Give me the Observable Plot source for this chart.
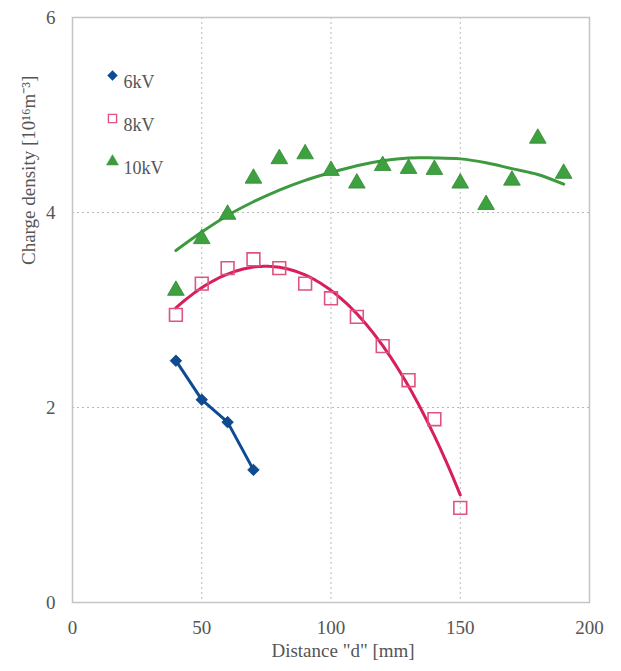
<!DOCTYPE html>
<html>
<head>
<meta charset="utf-8">
<script src="https://cdn.jsdelivr.net/npm/d3@7"></script>
<script src="https://cdn.jsdelivr.net/npm/@observablehq/plot@0.6"></script>
<style>
  html, body { margin: 0; padding: 0; background: #fff; }
  #chart { position: relative; width: 621px; height: 671px; }
  #chart svg, #chart svg text { font-family: "Liberation Serif", serif !important; }
</style>
</head>
<body>
<div id="chart"></div>
<script>
// Measured charge density [10^16 m^-3] against electrode distance d [mm]
const seriesNames = ["6kV", "8kV", "10kV"];

const distance6 = [40, 50, 60, 70];
const density6 = [2.48, 2.08, 1.85, 1.36];

const distance8 = [40, 50, 60, 70, 80, 90, 100, 110, 120, 130, 140, 150];
const density8 = [2.95, 3.27, 3.43, 3.52, 3.43, 3.27, 3.12, 2.93, 2.63, 2.28, 1.88, 0.97];

const distance10 = [40, 50, 60, 70, 80, 90, 100, 110, 120, 130, 140, 150, 160, 170, 180, 190];
const density10 = [3.20, 3.73, 3.98, 4.35, 4.55, 4.60, 4.43, 4.30, 4.48, 4.45, 4.44, 4.30, 4.08, 4.33, 4.76, 4.40];

// smoothed trend drawn through the 10 kV measurements
const trend10 = [3.61, 3.80, 3.97, 4.11, 4.23, 4.33, 4.41, 4.48, 4.53, 4.56, 4.56, 4.55, 4.51, 4.45, 4.39, 4.29];

const xTicks = [0, 50, 100, 150, 200];
const yTicks = [0, 2, 4, 6];

const colors = {"6kV": "#0f4b93", "8kV": "#d81f5e", "10kV": "#3e9a3e"};

// Least-squares polynomial trend line, evaluated every 1 mm across the measured range
function polyTrend(xs, ys, deg) {
  const m = d3.mean(xs), s = 50;
  const n = deg + 1;
  const A = Array.from({length: n}, () => new Array(n + 1).fill(0));
  xs.forEach((x, k) => {
    const t = (x - m) / s;
    for (let i = 0; i < n; i++) {
      for (let j = 0; j < n; j++) A[i][j] += Math.pow(t, i + j);
      A[i][n] += ys[k] * Math.pow(t, i);
    }
  });
  for (let c = 0; c < n; c++) {
    let p = c;
    for (let r = c + 1; r < n; r++) if (Math.abs(A[r][c]) > Math.abs(A[p][c])) p = r;
    [A[c], A[p]] = [A[p], A[c]];
    for (let r = 0; r < n; r++) {
      if (r === c) continue;
      const f = A[r][c] / A[c][c];
      for (let k = c; k <= n; k++) A[r][k] -= f * A[c][k];
    }
  }
  const coef = A.map((row, i) => row[n] / row[i]);
  const pts = [];
  for (let x = d3.min(xs); x <= d3.max(xs); x += 1) {
    const t = (x - m) / s;
    pts.push({x, y: coef.reduce((acc, c, i) => acc + c * Math.pow(t, i), 0)});
  }
  return pts;
}

const pts = (xs, ys) => xs.map((x, i) => ({x, y: ys[i]}));
const fit8 = polyTrend(distance8, density8, 3);

const font = "'Liberation Serif', serif";
const textColor = "#555";

const legendDy = [58, 101, 144];
const legendSymbols = ["diamond2", "square", "triangle"];

const plot = Plot.plot({
  width: 621,
  height: 671,
  marginLeft: 72,
  marginRight: 32,
  marginTop: 17,
  marginBottom: 69,
  style: {fontFamily: font, color: textColor, background: "#fff"},
  x: {domain: [0, 200]},
  y: {domain: [0, 6]},
  marks: [
    Plot.gridX(xTicks.slice(1, -1), {stroke: "#b8b8b8", strokeOpacity: 1, strokeDasharray: "2,3"}),
    Plot.gridY(yTicks.slice(1, -1), {stroke: "#b8b8b8", strokeOpacity: 1, strokeDasharray: "2,3"}),
    Plot.frame({stroke: "#c4c4c4", strokeWidth: 1.5}),
    Plot.axisX(xTicks, {tickSize: 0, tickPadding: 18, fontSize: 19, fontFamily: font, fill: textColor, tickFormat: d3.format("d"), label: null}),
    Plot.axisY(yTicks, {tickSize: 0, tickPadding: 17, fontSize: 19, fontFamily: font, fill: textColor, tickFormat: d3.format("d"), label: null}),
    Plot.text(["Distance \"d\" [mm]"], {frameAnchor: "bottom", dx: 12, dy: 54, fontSize: 19, fontFamily: font, fill: textColor}),
    Plot.text(["Charge density [10\u00b9\u2076m\u207b\u00b3]"], {frameAnchor: "left", rotate: -90, dx: -44, dy: -45, fontSize: 19, fontFamily: font, fill: textColor}),

    // trend lines
    Plot.line(pts(distance6, density6), {x: "x", y: "y", stroke: colors["6kV"], strokeWidth: 3}),
    Plot.line(fit8, {x: "x", y: "y", stroke: colors["8kV"], strokeWidth: 3}),
    Plot.line(pts(distance10, trend10), {x: "x", y: "y", stroke: colors["10kV"], strokeWidth: 3, curve: "catmull-rom"}),

    // measured points
    Plot.dot(pts(distance6, density6), {x: "x", y: "y", symbol: "diamond2", r: 5.2, fill: colors["6kV"], stroke: "#0c3f80", strokeWidth: 0.8}),
    Plot.dot(pts(distance8, density8), {x: "x", y: "y", symbol: "square", r: 7.2, fill: "none", stroke: "#e0537c", strokeWidth: 1.6}),
    Plot.dot(pts(distance10, density10), {x: "x", y: "y", symbol: "triangle", r: 6.2, fill: "#3fa03f", stroke: "#2f8a33", strokeWidth: 0.8}),

    // legend
    ...seriesNames.map((name, i) => Plot.dot([name], {
      frameAnchor: "top-left", dx: 40, dy: legendDy[i], symbol: legendSymbols[i],
      r: i === 1 ? 4.6 : 4.4,
      fill: i === 1 ? "#fff" : colors[name],
      stroke: i === 1 ? "#e0537c" : colors[name],
      strokeWidth: i === 1 ? 1.4 : 0.6
    })),
    ...seriesNames.map((name, i) => Plot.text([name], {
      frameAnchor: "top-left", dx: 51, dy: legendDy[i], text: d => d,
      textAnchor: "start", fontSize: 18, fontFamily: font, fill: textColor
    }))
  ]
});

document.getElementById("chart").appendChild(plot);
</script>
</body>
</html>
